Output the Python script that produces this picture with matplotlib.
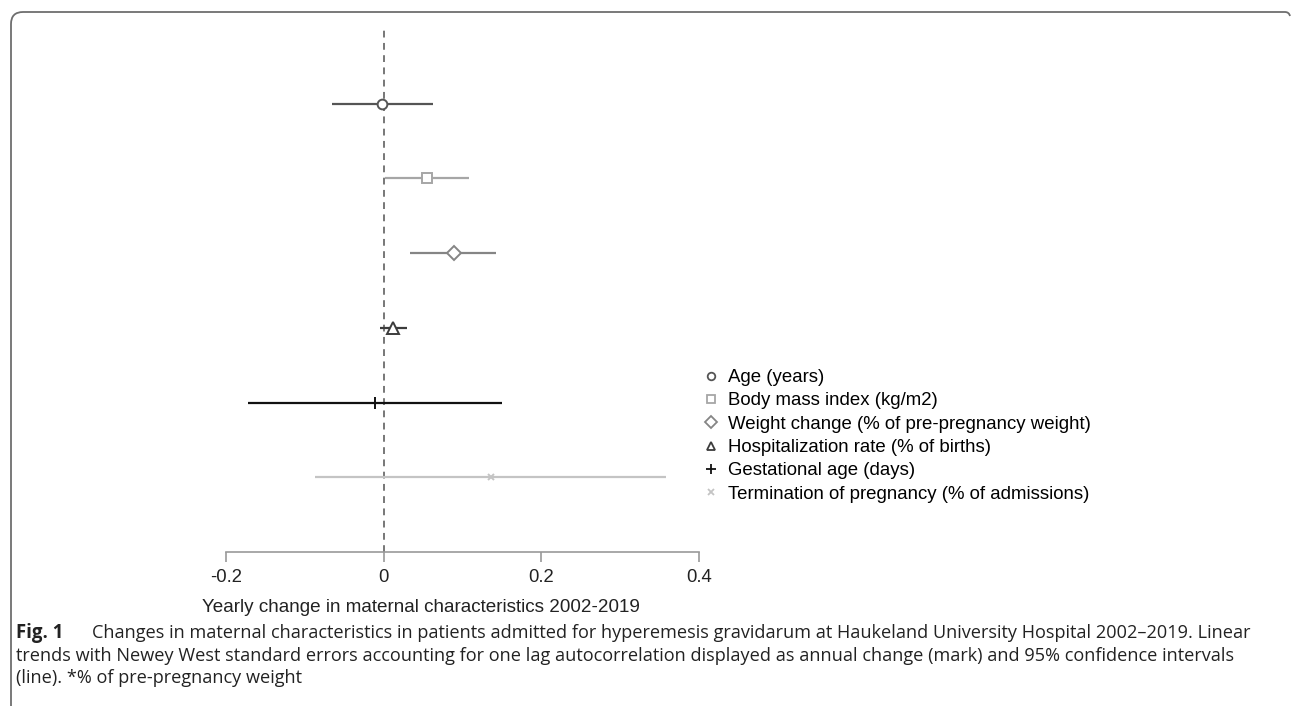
import matplotlib
matplotlib.use("Agg")
import matplotlib.pyplot as plt
from matplotlib.path import Path
from matplotlib.patches import PathPatch

# data: yearly change and 95% CI
labels = ["Age (years)", "Body mass index (kg/m2)",
          "Weight change (% of pre-pregnancy weight)",
          "Hospitalization rate (% of births)", "Gestational age (days)",
          "Termination of pregnancy (% of admissions)"]
est = [-0.002, 0.055, 0.089, 0.012, -0.011, 0.136]
lo = [-0.066, 0.002, 0.034, -0.005, -0.172, -0.087]
hi = [0.062, 0.108, 0.143, 0.029, 0.150, 0.358]
rows = [6, 5, 4, 3, 2, 1]

markers = ["o", "s", "D", "^", "+", "x"]
colors = ["#555555", "#a6a6a6", "#858585", "#3c3c3c", "#111111", "#c4c4c4"]
msizes = [7, 7.5, 7.5, 8, 9, 5]

W, H = 1292, 706
fig = plt.figure(figsize=(W / 100, H / 100), dpi=100)
plt.rcParams['font.family'] = ['Liberation Sans', 'DejaVu Sans']

def fx(x):
    return x / W

def fy(y):
    return 1 - y / H

ax = fig.add_axes([fx(226), fy(552), fx(699) - fx(226), fy(29) - fy(552)])
ax.set_xlim(-0.2, 0.4)
ax.set_ylim(0, 7)

ax.axvline(0, color="#777777", lw=1.4, ls=(0, (3.5, 2.8)), zorder=1)

handles = []
for i in range(len(labels)):
    ax.hlines(rows[i], lo[i], hi[i], color=colors[i], lw=1.6, zorder=2)
    ax.plot(est[i], rows[i], marker=markers[i], ms=msizes[i], mfc="white" if markers[i] not in "+x" else colors[i],
            mec=colors[i], mew=1.4, ls="none", zorder=3)
    h, = ax.plot([], [], marker=markers[i], ms=msizes[i] * 0.78, mfc="none", mec=colors[i],
                 mew=1.3, ls="none", label=labels[i])
    handles.append(h)

for s in ["top", "right", "left"]:
    ax.spines[s].set_visible(False)
ax.spines["bottom"].set_color("#999999")
ax.spines["bottom"].set_linewidth(1.2)
ax.set_yticks([])
ax.set_xticks([-0.2, 0, 0.2, 0.4])
ax.set_xticklabels(["-0.2", "0", "0.2", "0.4"])
ax.tick_params(axis="x", direction="out", length=7, width=1.2, color="#999999",
               labelsize=13.3, labelcolor="#222222", pad=5)
ax.set_xlabel("Yearly change in maternal characteristics 2002-2019", fontsize=13.6,
              color="#222222", va="center")
ax.xaxis.set_label_coords((421 - 226) / (699 - 226), -(607 - 552) / (552 - 29))

fig.legend(handles=handles, loc="upper left", bbox_to_anchor=(fx(704), fy(369)),
           frameon=False, fontsize=13.4, handlelength=0.8, handletextpad=0.5,
           labelspacing=0.34, borderaxespad=0, borderpad=0)

# frame: top and left border with a rounded top-left corner
verts = [(fx(11), fy(706)), (fx(11), fy(24)), (fx(11), fy(12)), (fx(23), fy(12)),
         (fx(1285), fy(12)), (fx(1289), fy(12)), (fx(1290), fy(16))]
codes = [Path.MOVETO, Path.LINETO, Path.CURVE3, Path.CURVE3, Path.LINETO, Path.CURVE3, Path.CURVE3]
fig.patches.append(PathPatch(Path(verts, codes), transform=fig.transFigure, fill=False,
                             edgecolor="#6e6e6e", lw=1.3))

cap_font = ["Open Sans", "DejaVu Sans"]
fig.text(fx(16), fy(633), "Fig. 1", fontsize=13.4, fontweight="bold", family=cap_font,
         va="center", color="#222222")
fig.text(fx(92), fy(633), "Changes in maternal characteristics in patients admitted for hyperemesis "
         "gravidarum at Haukeland University Hospital 2002\u20132019. Linear",
         fontsize=13.1, family=cap_font, va="center", color="#222222")
fig.text(fx(16), fy(656), "trends with Newey West standard errors accounting for one lag autocorrelation "
         "displayed as annual change (mark) and 95% confidence intervals",
         fontsize=13.1, family=cap_font, va="center", color="#222222")
fig.text(fx(16), fy(678), "(line). *% of pre-pregnancy weight",
         fontsize=13.1, family=cap_font, va="center", color="#222222")

fig.savefig("out.png", dpi=100)
